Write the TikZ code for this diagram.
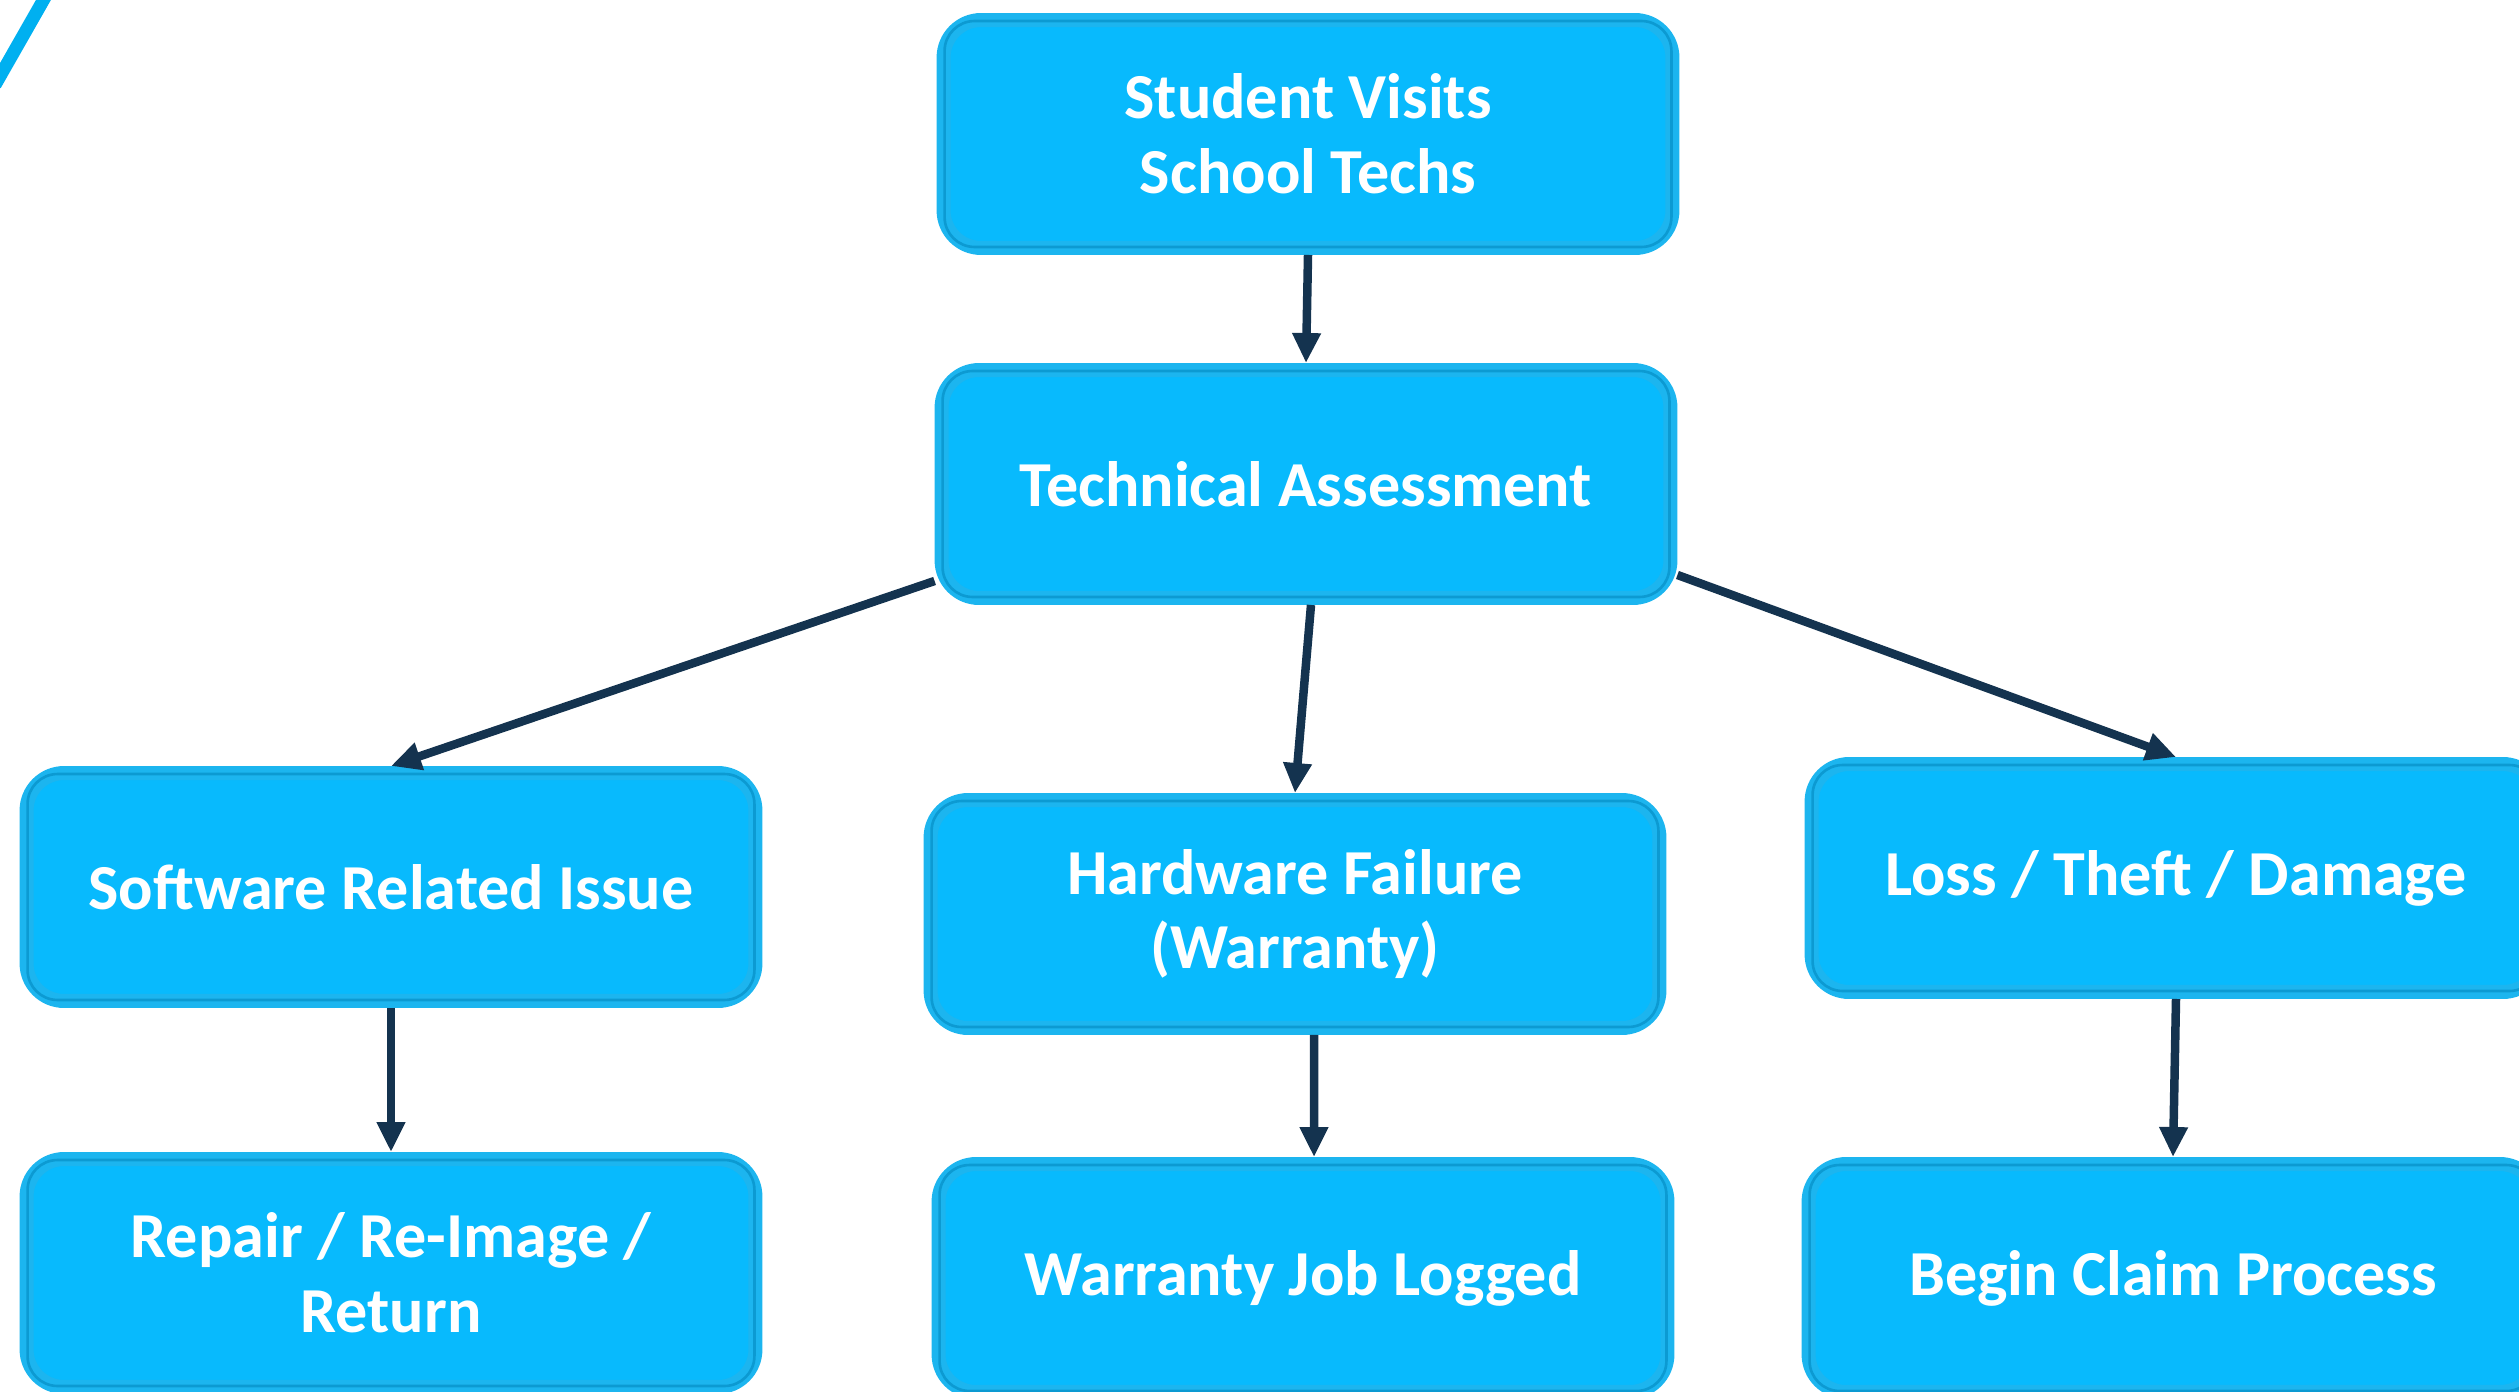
\documentclass[tikz,border=0pt]{standalone}
\usepackage{fontspec}
\setmainfont{Carlito}
\usetikzlibrary{arrows.meta}

\definecolor{boxblue}{HTML}{08BAFD}
\definecolor{ringblue}{HTML}{1CB5EF}
\definecolor{frameblue}{HTML}{0C9AD2}
\definecolor{linknavy}{HTML}{14334F}
\definecolor{stripeblue}{HTML}{00B0F0}

\begin{document}
\begin{tikzpicture}[x=0.02cm, y=-0.02cm]
    \tikzstyle{flow box}=[rectangle, rounded corners=0.75cm, fill=boxblue, draw=ringblue, line width=0.28cm, minimum width=14.58cm, minimum height=4.56cm, inner sep=0pt, text=white, align=center, font=\bfseries\fontsize{36.5}{42.5}\selectfont]
    \tikzstyle{inner frame}=[draw=frameblue, line width=1.5pt, rounded corners=0.6cm]
    \tikzstyle{link}=[-{Triangle[length=0.6cm,width=0.54cm]}, draw=linknavy, line width=0.17cm]

    \useasboundingbox (0,0) rectangle (2519,1392);

    % Corner stripe
    \draw[stripeblue, line width=0.26cm] (48,-8) -- (-5,85);

    % Draw the top boxes
    \node[flow box] (visit) at (1308,134) {Student Visits\\School Techs};
    \node[flow box] (assess) at (1306,484) {Technical Assessment};

    % Draw the middle row
    \node[flow box] (soft) at (391,887) {Software Related Issue};
    \node[flow box] (hard) at (1295,914) {Hardware Failure\\(Warranty)};
    \node[flow box] (loss) at (2176,878) {Loss / Theft / Damage};

    % Draw the bottom row
    \node[flow box] (repair) at (391,1273) {Repair / Re-Image /\\Return};
    \node[flow box] (logged) at (1303,1278) {Warranty Job Logged};
    \node[flow box] (claim) at (2173,1278) {Begin Claim Process};

    % Inner frame of every box
    \foreach \name in {visit,assess,soft,hard,loss,repair,logged,claim}
        \draw[inner frame] ([shift={(8,8)}]\name.north west) rectangle ([shift={(-8,-8)}]\name.south east);

    % Connect the boxes
    \path (visit.south) edge[link] (assess.north);
    \path ([yshift=0.48cm]assess.south west) edge[link] (soft.north);
    \path ([xshift=0.1cm]assess.south) edge[link] (hard.north);
    \path ([yshift=0.6cm]assess.south east) edge[link] (loss.north);
    \path (soft.south) edge[link] (repair.north);
    \path ([xshift=0.38cm]hard.south) edge[link] ([xshift=0.22cm]logged.north);
    \path (loss.south) edge[link] (claim.north);
\end{tikzpicture}
\end{document}
